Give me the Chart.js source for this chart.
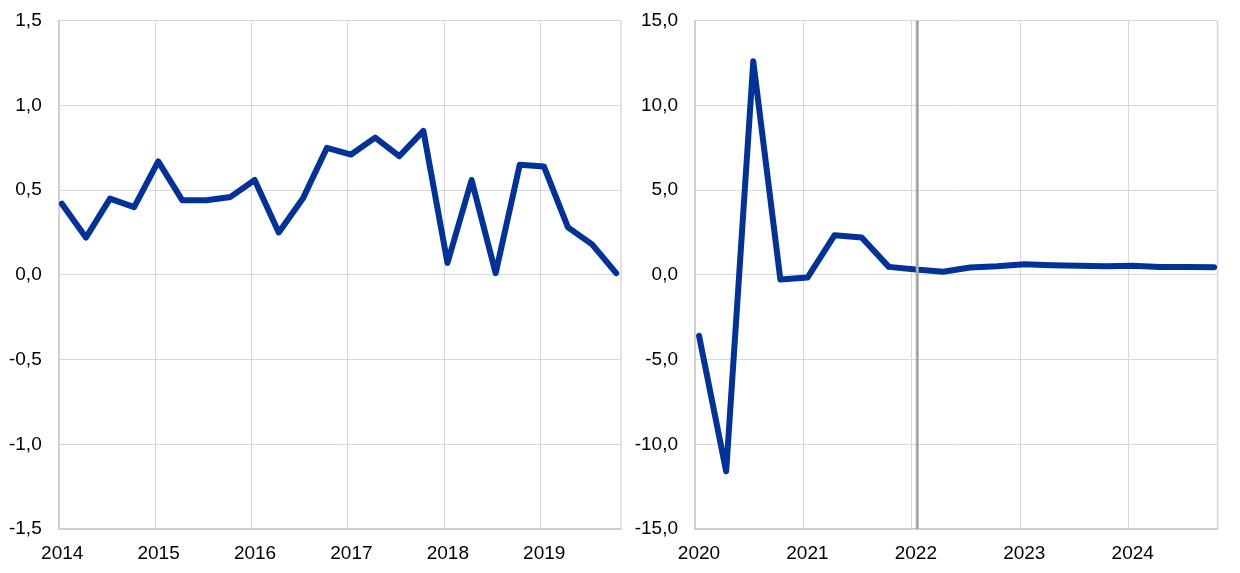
<!DOCTYPE html>
<html>
<head>
<meta charset="utf-8">
<script src="https://cdn.jsdelivr.net/npm/chart.js@4.4.1/dist/chart.umd.min.js"></script>
<style>
  html, body { margin: 0; padding: 0; background: #fff; }
  #wrap { position: relative; width: 1240px; height: 573px; }
  .panel { position: absolute; top: 0; height: 573px; }
  #p1 { left: 0; width: 625px; }
  #p2 { left: 625px; width: 615px; }
</style>
</head>
<body>
<div id="wrap">
  <div class="panel" id="p1"><canvas id="left" width="625" height="573"></canvas></div>
  <div class="panel" id="p2"><canvas id="right" width="615" height="573"></canvas></div>
</div>
<script>
// ---- data (quarterly) ----
const leftYears = ['2014', '2015', '2016', '2017', '2018', '2019'];
const leftValues = [0.42, 0.22, 0.45, 0.40, 0.67, 0.44, 0.44, 0.46,
                    0.56, 0.25, 0.45, 0.75, 0.71, 0.81, 0.70, 0.85,
                    0.07, 0.56, 0.01, 0.65, 0.64, 0.28, 0.18, 0.01];
const leftYTicks = [-1.5, -1.0, -0.5, 0, 0.5, 1.0, 1.5];

const rightYears = ['2020', '2021', '2022', '2023', '2024'];
const rightValues = [-3.6, -11.6, 12.6, -0.28, -0.16, 2.34, 2.2, 0.47,
                     0.31, 0.18, 0.43, 0.51, 0.63, 0.57, 0.53, 0.51,
                     0.53, 0.47, 0.47, 0.45];
const rightYTicks = [-15, -10, -5, 0, 5, 10, 15];
const projectionStart = 8.2;   // quarters after 2020Q1 gridline

const BLUE = '#003299', GRID = '#d9d9d9', FONT = '"Liberation Sans", Arial, sans-serif';

const fmt = (v, d) => v.toFixed(d).replace('.', ',');

// right border of the plot + grey projection marker
const frame = {
  id: 'frame',
  beforeDatasetsDraw(chart) {
    const { ctx, chartArea: a } = chart;
    ctx.save();
    ctx.strokeStyle = GRID; ctx.lineWidth = 1.5;
    ctx.beginPath(); ctx.moveTo(a.right, a.top); ctx.lineTo(a.right, a.bottom); ctx.stroke();
    ctx.restore();
  },
  afterDatasetsDraw(chart, args, o) {
    if (o.marker == null) return;
    const { ctx, chartArea: a, scales: { x } } = chart;
    const px = x.getPixelForValue(o.marker);
    ctx.save();
    ctx.strokeStyle = '#a6a6a6'; ctx.lineWidth = 3;
    ctx.beginPath(); ctx.moveTo(px, a.top); ctx.lineTo(px, a.bottom); ctx.stroke();
    ctx.restore();
  }
};

function panel(id, years, values, yTicks, o) {
  const el = document.getElementById(id);
  return new Chart(el, {
    type: 'line',
    data: { datasets: [{
      data: values.map((v, i) => ({ x: i + o.shift, y: v })),
      borderColor: BLUE, borderWidth: 6, pointRadius: 0, tension: 0,
      borderJoinStyle: 'round', borderCapStyle: 'round', fill: false
    }]},
    options: {
      responsive: false, animation: false,
      layout: { padding: { top: 20.7, right: o.padRight, bottom: 0, left: 0 } },
      plugins: { legend: { display: false }, tooltip: { enabled: false }, frame: { marker: o.marker } },
      scales: {
        x: {
          type: 'linear', min: 0, max: o.xMax,
          afterBuildTicks: s => { s.ticks = years.map((_, i) => ({ value: i * 4 })); },
          afterFit: s => { s.height = 44; },
          grid: { color: GRID, lineWidth: 1, drawTicks: false },
          border: { color: '#d0d0d0', width: 2 },
          ticks: { callback: v => years[v / 4], padding: 13, labelOffset: o.labelShift,
                   maxRotation: 0, autoSkip: false, color: '#000', font: { family: FONT, size: 19 } }
        },
        y: {
          min: yTicks[0], max: yTicks[yTicks.length - 1],
          afterBuildTicks: s => { s.ticks = yTicks.map(v => ({ value: v })); },
          // fixed axis width; drop the tick padding from the top/bottom overflow
          afterFit: s => { s.width = o.yWidth; s.paddingTop = 10; s.paddingBottom = 10; },
          grid: { color: GRID, lineWidth: 1, drawTicks: false },
          border: { color: '#d0d0d0', width: 2 },
          ticks: { callback: v => fmt(v, 1), padding: 17, color: '#000', font: { family: FONT, size: 19 } }
        }
      }
    },
    plugins: [frame]
  });
}

panel('left', leftYears, leftValues, leftYTicks,
      { shift: 0.13, xMax: 23.33, yWidth: 58.7, padRight: 4, labelShift: 3.5, marker: null });
panel('right', rightYears, rightValues, rightYTicks,
      { shift: 0.15, xMax: 19.28, yWidth: 70, padRight: 22.4, labelShift: 4, marker: projectionStart });
</script>
</body>
</html>
